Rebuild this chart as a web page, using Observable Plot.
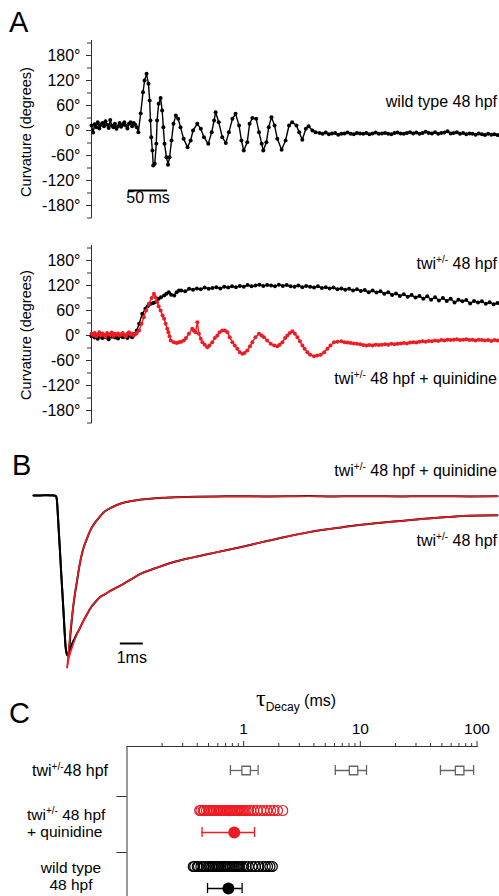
<!DOCTYPE html>
<html><head><meta charset="utf-8">
<script src="https://cdn.jsdelivr.net/npm/d3@7"></script>
<script src="https://cdn.jsdelivr.net/npm/@observablehq/plot@0.6"></script>
<style>
html,body{margin:0;padding:0;background:#fff;}
#fig{position:relative;width:499px;height:896px;overflow:hidden;background:#fff;}
#fig > svg{position:absolute;left:0;}
</style></head><body><div id="fig"></div>
<script>
const FONT = '"Liberation Sans", Arial, Helvetica, sans-serif';
const RED = "#ed1c24";
const GRAY = "#666";

// ---------- Panel A : curvature traces ----------
const degMajor = [-180, -120, -60, 0, 60, 120, 180];
const degMinor = [-210, -150, -90, -30, 30, 90, 150, 210];
const scaleBarA = 50; // ms

const wtTime = [0,2,4,6,8,10,12,14,16,18,20,22,24,26,28,30,32,34,36,38,40,42,44,46,48,50,52,54,56,58,
  60,63,66,68,70.5,73,74.5,75.5,76.5,78,79,81,83,84,86,88.5,90.5,92,93.5,96,98,100,102.5,105,108,111,114,118,123,127,
  130,135.5,140,144,149.5,154,157,159,163,167.5,172,176,180.5,184.5,189,192,195,199.5,202.5,206,211,214.5,218,220,224,
  227,230.5,234.5,238,243.5,248.5,253,257,262.5,266,270,274.5,278,283,287,
  292,296,300,304,308,312,316,320,324,328,332,336,340,344,348,352,356,360,364,368,372,376,380,384,388,392,396,400,
  404,408,412,416,420,424,428,432,436,440,444,448,452,456,460,464,468,472,476,480,484,488,492,496,500,504,508,512,516,520];
const wtCurv = [12,-5,15,8,20,5,14,18,10,22,14,6,25,12,8,16,4,10,18,9,14,20,12,5,16,20,10,18,14,8,
  -4,41,92,120,136,112,72,24,-16,-48,-84,-80,-32,24,64,78,48,8,-32,-64,-82,-64,-24,16,36,28,8,-20,-40,-24,
  0,16,4,-16,-32,-4,24,44,20,-16,-30,-4,28,40,12,-24,-48,-28,16,30,28,-4,-32,-48,-28,
  8,32,12,-20,-46,-24,12,20,12,-4,-22,4,10,0,-4,
  -6,-8,-5,-9,-7,-6,-10,-8,-7,-5,-8,-9,-6,-7,-8,-6,-9,-7,-5,-8,-7,-6,-8,-9,-6,-5,-7,-8,
  -6,-4,-7,-5,-8,-6,-3,-6,-7,-4,-8,-6,-5,-2,-7,-6,-4,-8,-6,-9,-7,-8,-10,-7,-9,-11,-8,-10,-9,-11];

const twiTime = [0,2,4,6,8,10,12,14,16,18,20,22,24,26,28,30,32,34,36,38,40,42,44,46,48,50,52,54,56,58,
  61,65,69,72,76,79,82,86,89,93,96,99,102,106,109,112,
  115,120,125,130,135,140,145,150,155,160,165,170,175,180,185,190,195,200,205,210,215,220,225,230,235,240,245,250,
  255,260,265,270,275,280,285,290,295,300,305,310,315,320,325,330,335,340,345,350,355,360,365,370,375,380,385,390,
  395,400,405,410,415,420,425,430,435,440,445,450,455,460,465,470,475,480,485,490,495,500,505,510,515,520];
const twiCurv = [-2,3,-5,0,-8,2,-3,-6,1,-4,-2,-9,0,-3,2,-5,-1,-7,-2,1,-4,-3,0,-6,2,-1,-4,3,5,12,
  28,52,64,70,76,78,80,88,92,96,100,104,98,96,104,108,
  108,106,112,110,113,111,115,112,114,116,113,117,115,118,116,119,117,121,118,120,122,119,121,120,118,122,119,121,
  118,117,120,116,119,117,115,118,114,116,113,115,111,113,110,112,108,111,107,109,104,108,103,106,100,104,97,101,
  95,99,93,97,91,95,88,94,86,92,84,90,83,88,79,86,82,85,77,83,79,82,76,80,75,78];

const quinTime = [0,2,4,6,8,10,12,14,16,18,20,22,24,26,28,30,32,34,36,38,40,42,44,46,48,50,52,54,56,58,
  61,64,67,70,73.5,77,80,82,84,86,88.5,91,93,95,97,98.5,100,101.5,105.5,109,112,115,118.3,121,124.7,
  129,131,133.3,135.5,137.6,140,142,145,148.3,151,154.7,158,161.2,164,167.6,171,174,177,180.4,183.5,
  186.8,190,193.2,196,199.6,203,206,210,214.5,218,220.9,225,229.5,234,238.1,241,244.5,248,250.9,254,
  257.3,260.5,263.7,267,270.1,273,276.5,280,285,289,293.6,298,302.2,306,310.6,315,320,324,328,
  332,336,340,344,348,352,356,360,364,368,372,376,380,384,388,392,396,400,404,408,412,416,420,424,
  428,432,436,440,444,448,452,456,460,464,468,472,476,480,484,488,492,496,500,504,508,512,516,520];
const quinCurv = [4,1,6,-2,3,8,0,5,2,-3,6,3,1,7,-1,4,2,5,0,3,6,1,-2,4,8,2,5,0,3,6,
  12,28,44,60,76,90,100,92,80,70,60,48,40,28,16,8,-2,-12,-16,-18,-16,-15,-12,-6,4,
  16,12,8,32,4,-8,-16,-22,-28,-24,-16,-6,0,8,12,12,8,-4,-16,-24,
  -32,-40,-44,-42,-36,-26,-16,-4,4,0,-4,-12,-20,-24,-26,-22,-16,-6,0,6,
  10,4,-4,-14,-24,-32,-40,-46,-50,-48,-46,-40,-32,-24,-16,-15,-14,-16,-17,
  -18,-19,-20,-21,-23,-24,-23,-24,-22,-23,-22,-21,-22,-20,-21,-20,-19,-18,-19,-17,-16,-17,-15,-14,
  -15,-13,-14,-12,-13,-11,-12,-10,-11,-10,-9,-11,-10,-9,-11,-10,-12,-10,-11,-12,-11,-13,-11,-12];

// ---------- Panel B : normalized current traces (ms, normalized) ----------
const scaleBarB = 1; // ms
const bBlackTime = [0,0.3,0.6,0.9,0.98,1.02,1.06,1.1,1.15,1.2,1.25,1.3,1.35,1.4,1.45,1.48,1.52,1.56,1.62,1.7,
  1.8,1.9,2.0,2.15,2.3,2.5,2.7,2.9,3.1,3.4,3.8,4.2,4.7,5.3,6,7,8,9,10,11,12,13,14,15,16,17,18,19,20.2];
const bBlackQuin = [0,0,0.002,0,-0.005,-0.03,-0.12,-0.22,-0.34,-0.47,-0.59,-0.71,-0.84,-0.95,-0.99,-1.0,-0.99,-0.95,-0.85,-0.73,
  -0.62,-0.53,-0.44,-0.34,-0.28,-0.21,-0.165,-0.13,-0.10,-0.075,-0.05,-0.036,-0.025,-0.017,-0.012,
  -0.008,-0.006,-0.004,-0.006,-0.005,-0.003,-0.006,-0.004,-0.005,-0.006,-0.004,-0.005,-0.006,-0.005];
const bBlackTwi = [0,0,0.002,0,-0.005,-0.03,-0.12,-0.22,-0.34,-0.47,-0.59,-0.71,-0.84,-0.95,-0.99,-1.0,-0.995,
  -0.975,-0.95,-0.92,-0.89,-0.86,-0.835,-0.79,-0.75,-0.70,-0.665,-0.635,-0.618,-0.592,-0.562,-0.528,
  -0.487,-0.455,-0.42,-0.385,-0.354,-0.323,-0.29,-0.258,-0.229,-0.207,-0.187,-0.172,-0.159,-0.146,-0.135,-0.126,-0.124];
const fitFastTime = [1.465,1.55,1.65,1.75,1.85,1.95,2.05,2.2,2.35,2.5,2.7,2.9,3.1,3.4,3.8,4.2,4.7,5.3,6,7,8.5,11,14,17,20.2];
const fitFastVal = [-1.075,-0.93,-0.79,-0.67,-0.57,-0.48,-0.40,-0.32,-0.26,-0.21,-0.165,-0.13,-0.10,-0.075,-0.05,
  -0.036,-0.025,-0.017,-0.012,-0.008,-0.006,-0.005,-0.005,-0.005,-0.005];
const fitSlowTime = [1.465,1.55,1.62,1.7,1.8,1.9,2.0,2.15,2.3,2.5,2.7,2.9,3.1,3.4,3.8,4.2,4.7,5.3,6,7,8,9,10,11,12,13,14,15,16,17,18,19,20.2];
const fitSlowVal = [-1.075,-1.01,-0.975,-0.94,-0.9,-0.865,-0.835,-0.79,-0.75,-0.70,-0.665,-0.635,-0.618,-0.592,-0.562,
  -0.528,-0.487,-0.455,-0.42,-0.385,-0.354,-0.323,-0.29,-0.258,-0.229,-0.207,-0.187,-0.172,-0.159,-0.146,-0.135,-0.126,-0.124];

// ---------- Panel C : tau decay (ms) ----------
const tauCats = ["twi+/- 48 hpf", "twi+/- 48 hpf + quinidine", "wild type 48 hpf"];
const tauLabelTicks = [1, 10, 100];
const tauMinorTicks = [0.2,0.3,0.4,0.5,0.6,0.7,0.8,0.9,2,3,4,5,6,7,8,9,20,30,40,50,60,70,80,90];
const twiTauMean = [1.05, 8.75, 71];
const twiTauLo = [0.77, 6.1, 48.6];
const twiTauHi = [1.33, 11.3, 93.5];
const quinTau = [0.42,0.43,0.45,0.46,0.48,0.5,0.51,0.53,0.55,0.56,0.58,0.6,0.62,0.63,0.65,0.67,0.69,0.71,0.73,0.75,
  0.77,0.79,0.81,0.84,0.86,0.89,0.92,0.95,0.98,1.01,1.05,1.1,1.15,1.22,1.31,1.4,1.48,1.58,1.7,1.82,1.95,2.16];
const quinTauMean = 0.83, quinTauLo = 0.44, quinTauHi = 1.24;
const wtTau = [0.37,0.38,0.4,0.41,0.43,0.45,0.46,0.48,0.5,0.51,0.53,0.55,0.57,0.59,0.6,0.62,0.64,0.66,0.68,0.7,
  0.72,0.74,0.77,0.8,0.83,0.86,0.89,0.92,0.96,1.0,1.05,1.1,1.18,1.26,1.35,1.45,1.53,1.6,1.68,1.76];
const wtTauMean = 0.74, wtTauLo = 0.49, wtTauHi = 0.97;

// ---------- helpers ----------
const rows = (T, V) => T.map((t, i) => ({t, v: V[i]})).filter(d => d.v !== undefined);
const fig = document.getElementById("fig");
const baseStyle = {fontFamily: FONT, fontSize: "16px", background: "transparent", color: "black", overflow: "visible"};
function place(svg, top) { svg.style.top = top + "px"; fig.appendChild(svg); }

function curvPanel(height, mTop, mBottom, series, extra = []) {
  return Plot.plot({
    width: 499, height, marginLeft: 91, marginRight: 2, marginTop: mTop, marginBottom: mBottom,
    style: baseStyle,
    x: {domain: [0, 520], axis: null, label: null},
    y: {domain: [-210, 210], axis: null, label: null},
    marks: [
      Plot.ruleX([0], {y1: -212, y2: 216, stroke: "#333", strokeWidth: 1}),
      Plot.axisY(degMajor, {tickSize: 5, tickPadding: 6, tickFormat: d => `${d}°`, fontSize: 16, stroke: "#333", label: null}),
      Plot.axisY(degMinor, {tickSize: 4, tickFormat: () => "", stroke: "#333", label: null}),
      ...series.flatMap(({data, color}) => [
        Plot.line(data, {x: "t", y: "v", stroke: color, strokeWidth: 1.4}),
        Plot.dot(data, {x: "t", y: "v", r: 2, fill: color, stroke: null})
      ]),
      ...extra
    ]
  });
}

place(curvPanel(225, 42.5, 7.5, [{data: rows(wtTime, wtCurv), color: "black"}], [
  Plot.ruleY([-144], {x1: 47.4, x2: 47.4 + scaleBarA, stroke: "black", strokeWidth: 2}),
  Plot.text([`${scaleBarA} ms`], {x: 47.4 + scaleBarA / 2, y: -175, lineAnchor: "bottom", textAnchor: "middle", fontSize: 16})
]), 0);

place(curvPanel(210, 22.5, 12.5, [
  {data: rows(twiTime, twiCurv), color: "black"},
  {data: rows(quinTime, quinCurv), color: RED}
]), 225);

// Panel B
place(Plot.plot({
  width: 499, height: 240, marginLeft: 33, marginRight: 2, marginTop: 47, marginBottom: 9,
  style: baseStyle,
  x: {domain: [0, 20.2], axis: null},
  y: {domain: [-1.1, 0.05], axis: null},
  marks: [
    Plot.line(rows(bBlackTime, bBlackTwi), {x: "t", y: "v", stroke: "black", strokeWidth: 2, curve: "monotone-x"}),
    Plot.line(rows(bBlackTime, bBlackQuin), {x: "t", y: "v", stroke: "black", strokeWidth: 2, curve: "monotone-x"}),
    Plot.line(rows(fitSlowTime, fitSlowVal), {x: "t", y: "v", stroke: RED, strokeWidth: 1.6, curve: "monotone-x"}),
    Plot.line(rows(fitFastTime, fitFastVal), {x: "t", y: "v", stroke: RED, strokeWidth: 1.6, curve: "monotone-x"}),
    Plot.ruleY([-0.925], {x1: 3.78, x2: 3.78 + scaleBarB, stroke: "black", strokeWidth: 2}),
    Plot.text([`${scaleBarB}ms`], {x: 3.78 + scaleBarB / 2, y: -1.044, lineAnchor: "bottom", textAnchor: "middle", fontSize: 16})
  ]
}), 440);

// Panel C
const twiStats = twiTauMean.map((m, i) => ({cat: tauCats[0], mean: m, lo: twiTauLo[i], hi: twiTauHi[i]}));
const meanStats = [
  {cat: tauCats[1], mean: quinTauMean, lo: quinTauLo, hi: quinTauHi, color: RED},
  {cat: tauCats[2], mean: wtTauMean, lo: wtTauLo, hi: wtTauHi, color: "black"}
];
const indiv = [
  ...quinTau.map(v => ({cat: tauCats[1], tau: v, color: RED})),
  ...wtTau.map(v => ({cat: tauCats[2], tau: v, color: "black"}))
];
place(Plot.plot({
  width: 499, height: 216, marginLeft: 126.5, marginRight: 22.5, marginTop: 66, marginBottom: 0,
  style: baseStyle,
  x: {type: "log", domain: [0.1, 100], axis: null, label: null},
  y: {type: "band", domain: tauCats, range: [60, 228], padding: 0, axis: null, label: null},
  color: {type: "identity"},
  marks: [
    Plot.frame({anchor: "top", stroke: "#333"}),
    Plot.frame({anchor: "left", stroke: "#333"}),
    Plot.axisX(tauMinorTicks, {anchor: "top", tickSize: 4, tickFormat: () => "", stroke: "#333", label: null}),
    Plot.axisX(tauLabelTicks, {anchor: "top", tickSize: 6, tickPadding: 7, tickFormat: d => String(d), fontSize: 15.5, stroke: "#333", label: null}),
    Plot.axisY(tauCats.slice(1), {anchor: "left", tickSize: 10, dy: -28, tickFormat: () => "", stroke: "#333", label: null}),
    // twi: three components, open squares with error bars
    Plot.ruleY(twiStats, {y: "cat", x1: "lo", x2: "hi", stroke: GRAY, strokeWidth: 1.3, dy: 2}),
    Plot.tickX(twiStats, {x: "lo", y: "cat", stroke: GRAY, strokeWidth: 1.3, insetTop: 23, insetBottom: 23, dy: 2}),
    Plot.tickX(twiStats, {x: "hi", y: "cat", stroke: GRAY, strokeWidth: 1.3, insetTop: 23, insetBottom: 23, dy: 2}),
    Plot.dot(twiStats, {x: "mean", y: "cat", symbol: "square", r: 4.8, fill: "white", stroke: GRAY, strokeWidth: 1.3, dy: 2}),
    // individual fish
    Plot.dot(indiv, {x: "tau", y: "cat", r: 5, stroke: "color", fill: "none", strokeWidth: 1.2, dy: -14}),
    // means with error bars
    Plot.ruleY(meanStats, {y: "cat", x1: "lo", x2: "hi", stroke: "color", strokeWidth: 1.3, dy: 8}),
    Plot.tickX(meanStats, {x: "lo", y: "cat", stroke: "color", strokeWidth: 1.3, insetTop: 23, insetBottom: 23, dy: 8}),
    Plot.tickX(meanStats, {x: "hi", y: "cat", stroke: "color", strokeWidth: 1.3, insetTop: 23, insetBottom: 23, dy: 8}),
    Plot.dot(meanStats, {x: "mean", y: "cat", r: 6, fill: "color", stroke: null, dy: 8})
  ]
}), 680);

// ---------- text overlay ----------
const ov = d3.select(fig).append("svg").attr("width", 499).attr("height", 896)
  .style("position", "absolute").style("top", "0px").style("left", "0px").style("white-space", "pre");
const SUP = {t: "+/-", shift: -6, size: 10};
function addLabel(x, y, parts, {anchor = "start", size = 16, rotate = 0} = {}) {
  const t = ov.append("text").attr("x", x).attr("y", y).attr("text-anchor", anchor)
    .attr("font-family", FONT).attr("font-size", size).attr("fill", "#000");
  if (rotate) t.attr("transform", `rotate(${rotate} ${x} ${y})`);
  let cur = 0;
  for (const p of parts) {
    const o = typeof p === "string" ? {t: p, shift: 0} : p;
    const s = t.append("tspan").attr("dy", (o.shift || 0) - cur).text(o.t);
    if (o.size) s.attr("font-size", o.size);
    if (o.family) s.attr("font-family", o.family);
    cur = o.shift || 0;
  }
}
addLabel(9, 32, ["A"], {size: 29});
addLabel(497, 107, ["wild type 48 hpf"], {anchor: "end"});
addLabel(497, 269, ["twi", SUP, " 48 hpf"], {anchor: "end"});
addLabel(497, 384, ["twi", SUP, " 48 hpf + quinidine"], {anchor: "end"});
addLabel(31, 132, ["Curvature (degrees)"], {anchor: "middle", rotate: -90, size: 14.5});
addLabel(31, 335, ["Curvature (degrees)"], {anchor: "middle", rotate: -90, size: 14.5});
addLabel(12, 475, ["B"], {size: 29});
addLabel(497, 476, ["twi", SUP, " 48 hpf + quinidine"], {anchor: "end"});
addLabel(497, 546, ["twi", SUP, " 48 hpf"], {anchor: "end"});
addLabel(9, 723, ["C"], {size: 29});
addLabel(256, 706, [{t: "τ", shift: 0, size: 24, family: '"Liberation Serif", serif'}, {t: "Decay", shift: 5, size: 12}, {t: " (ms)", shift: 0}]);
addLabel(108, 776, ["twi", SUP, "48 hpf"], {anchor: "end"});
addLabel(27, 820, ["twi", SUP, " 48 hpf"], {size: 15.5});
addLabel(27, 837, ["+ quinidine"], {size: 15.5});
addLabel(71, 873, ["wild type"], {anchor: "middle", size: 15.5});
addLabel(71, 890, ["48 hpf"], {anchor: "middle", size: 15.5});
</script></body></html>
